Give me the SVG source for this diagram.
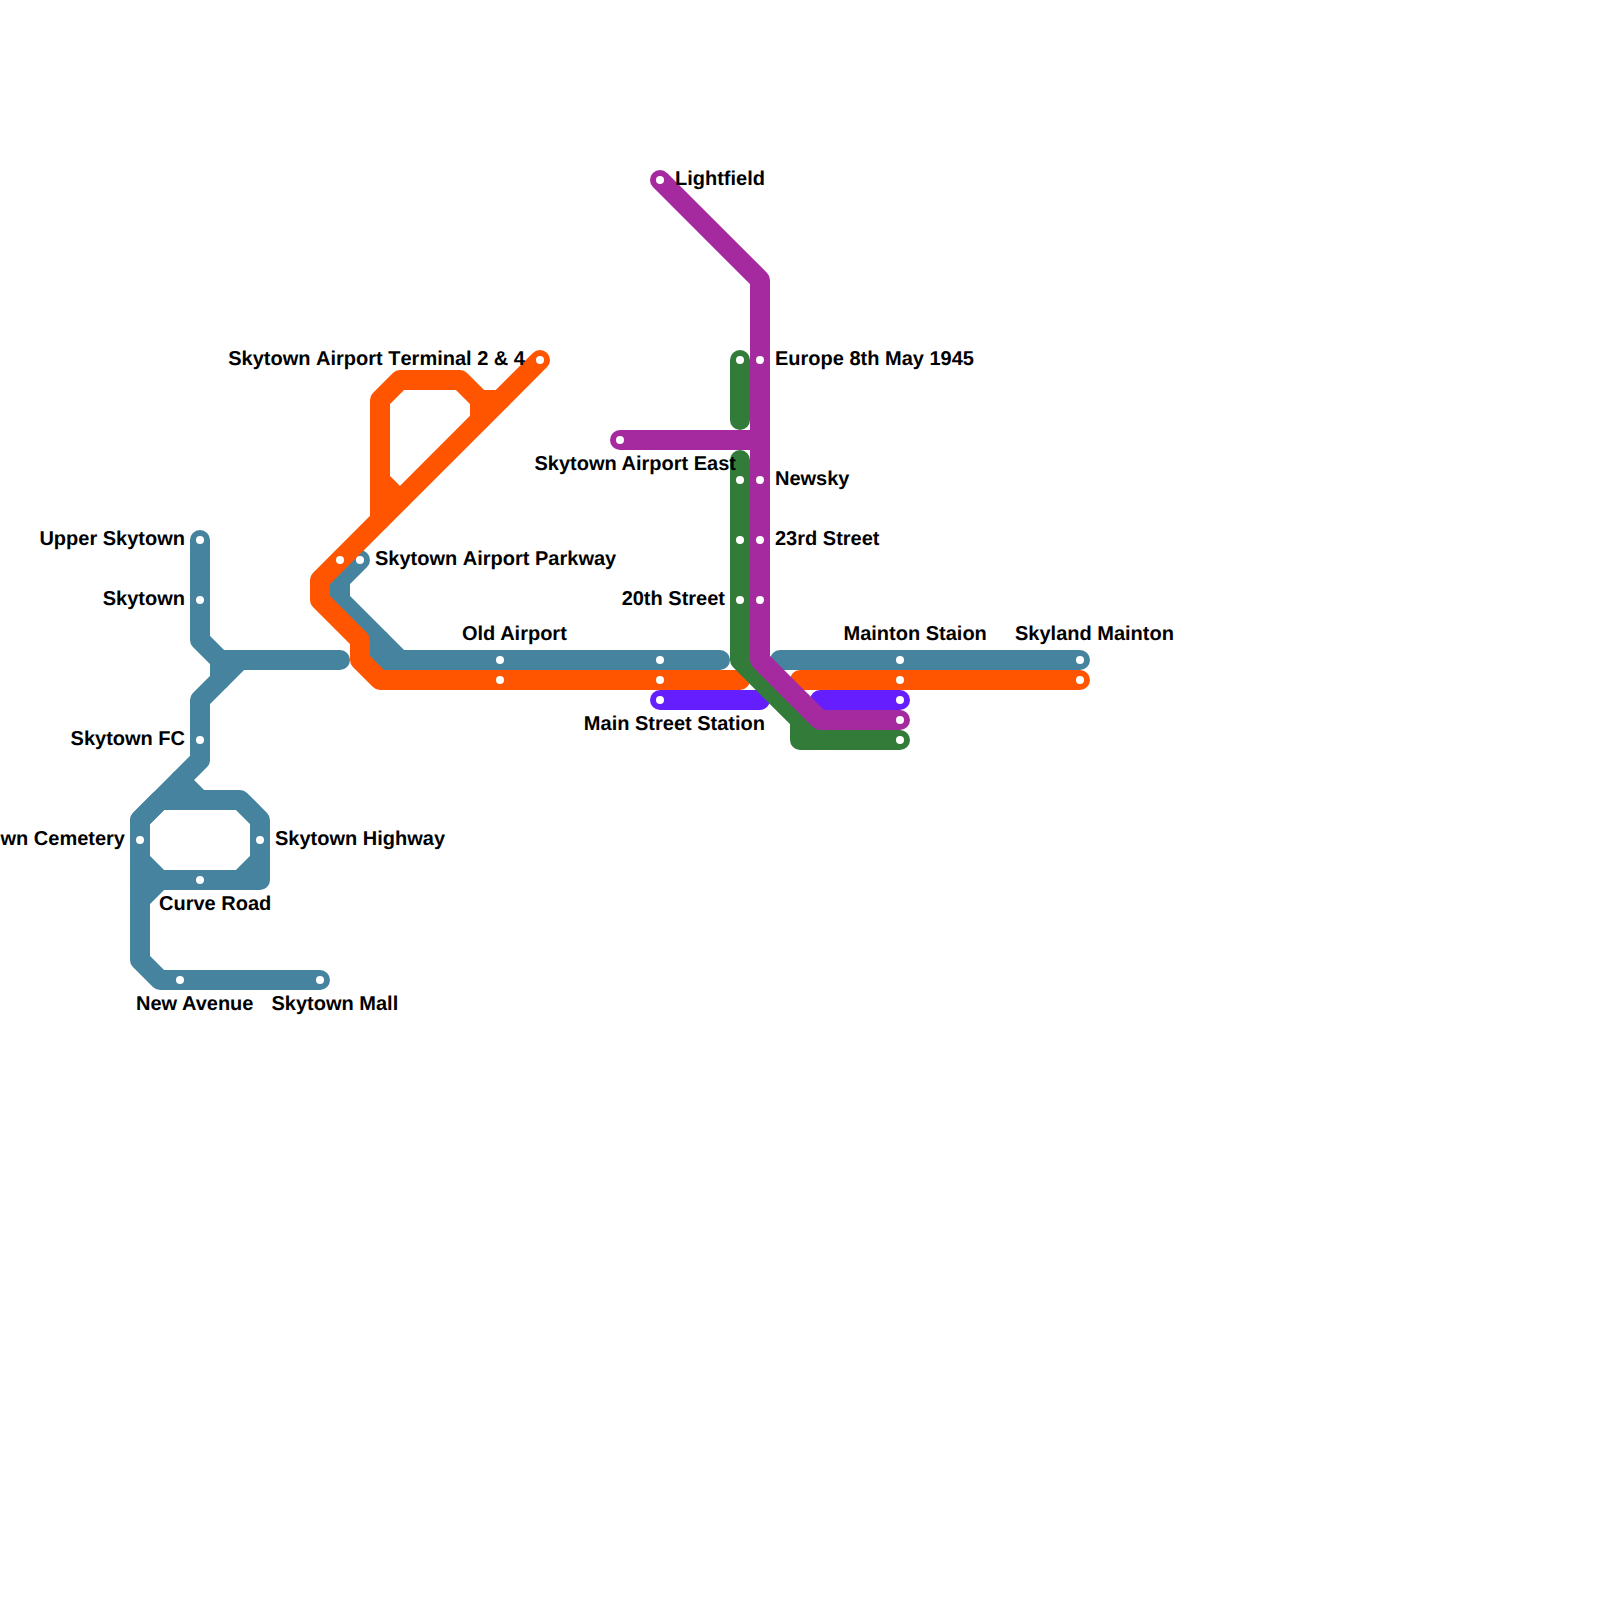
<svg xmlns="http://www.w3.org/2000/svg" width="1600" height="1600" viewBox="0 0 1600 1600">
<style>
.l{fill:none;stroke-width:20;stroke-linecap:round;stroke-linejoin:round}
.blue{stroke:#46839f}.orange{stroke:#ff5500}.violet{stroke:#651fff}.green{stroke:#327b39}.purple{stroke:#a52aa0}
.d{fill:#fff}
text{font-family:"Liberation Sans",Arial,sans-serif;font-weight:700;font-size:20px;fill:#000;text-rendering:geometricPrecision}
.e{text-anchor:end}
.nk{font-kerning:none}
</style>
<rect width="1600" height="1600" fill="#fff"/>
<g id="connectors">
<g class="l blue">
<path d="M200 540V640L220 660H340"/>
<path d="M220 660V680"/>
<path d="M240 660L200 700V760L140 820V960L160 980H320"/>
<path d="M180 780L200 800H240L260 820V880H160L140 900"/>
<path d="M140 820L160 800H200"/>
<path d="M140 860L160 880"/>
<path d="M260 860L240 880"/>
<path d="M360 560L340 580V600L400 660"/>
<path d="M380 640V660H720"/>
<path d="M780 660H1080"/>
</g>
<g class="l orange">
<path d="M540 360L320 580V600L360 640V660L380 680H740"/>
<path d="M380 520V400L400 380H460L480 400V420"/>
<path d="M480 400H500"/>
<path d="M380 480L400 500"/>
<path d="M800 680H1080"/>
</g>
<g class="l violet">
<path d="M660 700H760"/>
<path d="M820 700H900"/>
</g>
<g class="l green">
<path d="M740 360V420"/>
<path d="M740 460V660L800 720V740H900"/>
<path d="M800 720L820 740"/>
</g>
<g class="l purple">
<path d="M660 180L760 280V660L820 720H900"/>
<path d="M620 440H760"/>
</g>
</g>
<g id="upper-skytown"><circle class="d" cx="200" cy="540" r="4"/><text class="e" x="185" y="545">Upper Skytown</text></g>
<g id="skytown"><circle class="d" cx="200" cy="600" r="4"/><text class="e" x="185" y="605">Skytown</text></g>
<g id="skytown-fc"><circle class="d" cx="200" cy="740" r="4"/><text class="e" x="185" y="745">Skytown FC</text></g>
<g id="skytown-cemetery"><circle class="d" cx="140" cy="840" r="4"/><text class="e" x="125" y="845">Skytown Cemetery</text></g>
<g id="skytown-highway"><circle class="d" cx="260" cy="840" r="4"/><text x="275" y="845">Skytown Highway</text></g>
<g id="curve-road"><circle class="d" cx="200" cy="880" r="4"/><text x="159" y="910">Curve Road</text></g>
<g id="new-avenue"><circle class="d" cx="180" cy="980" r="4"/><text x="136" y="1010">New Avenue</text></g>
<g id="skytown-mall"><circle class="d" cx="320" cy="980" r="4"/><text x="271.5" y="1010">Skytown Mall</text></g>
<g id="skytown-airport-parkway"><circle class="d" cx="360" cy="560" r="4"/><circle class="d" cx="340" cy="560" r="4"/><text class="nk" x="375" y="565">Skytown Airport Parkway</text></g>
<g id="skytown-airport-terminal"><circle class="d" cx="540" cy="360" r="4"/><text class="e nk" x="525" y="365">Skytown Airport Terminal 2 &amp; 4</text></g>
<g id="old-airport"><circle class="d" cx="500" cy="660" r="4"/><circle class="d" cx="500" cy="680" r="4"/><text x="462" y="640">Old Airport</text></g>
<g id="main-street-station"><circle class="d" cx="660" cy="660" r="4"/><circle class="d" cx="660" cy="680" r="4"/><circle class="d" cx="660" cy="700" r="4"/><text class="e" x="765" y="730">Main Street Station</text></g>
<g id="lightfield"><circle class="d" cx="660" cy="180" r="4"/><text x="675" y="185">Lightfield</text></g>
<g id="europe-8th-may-1945"><circle class="d" cx="740" cy="360" r="4"/><circle class="d" cx="760" cy="360" r="4"/><text x="775" y="365">Europe 8th May 1945</text></g>
<g id="skytown-airport-east"><circle class="d" cx="620" cy="440" r="4"/><text class="e" x="736" y="470">Skytown Airport East</text></g>
<g id="newsky"><circle class="d" cx="740" cy="480" r="4"/><circle class="d" cx="760" cy="480" r="4"/><text x="775" y="485">Newsky</text></g>
<g id="street-23rd"><circle class="d" cx="740" cy="540" r="4"/><circle class="d" cx="760" cy="540" r="4"/><text x="775" y="545">23rd Street</text></g>
<g id="street-20th"><circle class="d" cx="740" cy="600" r="4"/><circle class="d" cx="760" cy="600" r="4"/><text class="e" x="725" y="605">20th Street</text></g>
<g id="mainton-staion"><circle class="d" cx="900" cy="660" r="4"/><circle class="d" cx="900" cy="680" r="4"/><circle class="d" cx="900" cy="700" r="4"/><circle class="d" cx="900" cy="720" r="4"/><circle class="d" cx="900" cy="740" r="4"/><text x="843.5" y="640">Mainton Staion</text></g>
<g id="skyland-mainton"><circle class="d" cx="1080" cy="660" r="4"/><circle class="d" cx="1080" cy="680" r="4"/><text x="1015" y="640">Skyland Mainton</text></g>
</svg>
